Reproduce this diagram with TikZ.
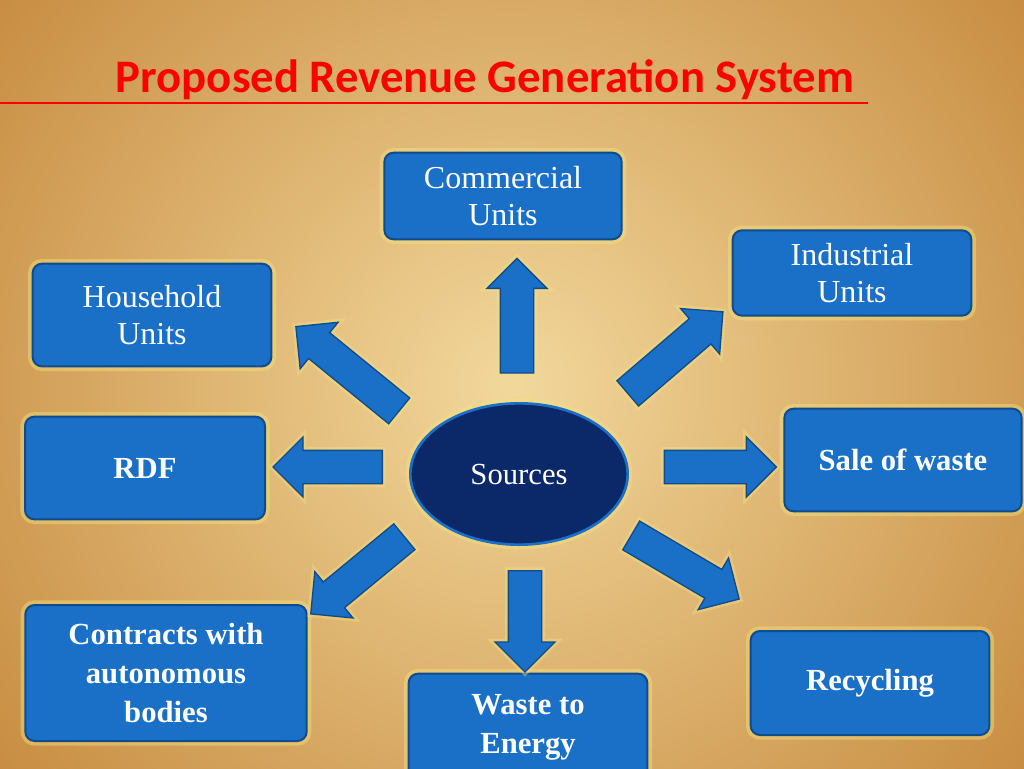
\documentclass[tikz,border=0pt]{standalone}
\usepackage{fontspec}
\setmainfont{Liberation Serif}
\newfontfamily\titlefont{Carlito}
\usetikzlibrary{shapes.arrows, shapes.geometric}
\definecolor{boxblue}{HTML}{1A6FC6}
\definecolor{boxedge}{HTML}{0E4C8E}
\definecolor{navy}{HTML}{0B2868}
\definecolor{glow}{HTML}{F4E27A}
\definecolor{bgin}{HTML}{F2D89C}
\definecolor{bgout}{HTML}{C4863A}
\tikzset{
  unit/.style={
    draw=boxedge, line width=1.5pt, fill=boxblue,
    rounded corners=7pt, text=white, align=center,
    font=\fontsize{24}{28}\selectfont,
    preaction={draw=glow, line width=7pt, opacity=0.45},
  },
  boldunit/.style={
    unit, font=\fontsize{23}{29}\selectfont\bfseries,
  },
  flow/.style={
    single arrow, draw=boxedge, line width=1pt, fill=boxblue,
    inner sep=12pt, single arrow head extend=10pt,
    preaction={draw=glow, line width=5pt, opacity=0.4},
  },
}
\begin{document}
\begin{tikzpicture}[x=0.75pt, y=-0.75pt]
  \useasboundingbox (0,0) rectangle (1024,768);
  \shade[inner color=bgin, outer color=bgout] (-200,-300) rectangle (1224,1068);

  % title
  \node[text=red, font=\titlefont\fontsize{35}{38}\selectfont\bfseries] (title) at (485,80)
    {Proposed Revenue Generation System};
  \draw[red, line width=1.3pt] (0,103) -- (868,103);

  % units
  \node[unit, minimum width=178pt, minimum height=65pt] (comm) at (503,196) {Commercial\\Units};
  \node[unit, minimum width=179pt, minimum height=64pt] (ind) at (852,273) {Industrial\\Units};
  \node[unit, minimum width=179pt, minimum height=77pt] (house) at (152,315) {Household\\Units};
  \node[boldunit, minimum width=180pt, minimum height=77pt] (rdf) at (145,468) {RDF};
  \node[boldunit, minimum width=178pt, minimum height=77pt] (sale) at (903,460) {Sale of waste};
  \node[boldunit, minimum width=211pt, minimum height=102pt] (contr) at (166,673) {Contracts with\\autonomous\\bodies};
  \node[boldunit, minimum width=179pt, minimum height=80pt] (wte) at (528,727) {Waste to\\Energy};
  \node[boldunit, minimum width=179pt, minimum height=78pt] (recyc) at (870,683) {Recycling};

  % centre
  \node[ellipse, draw=boxblue, line width=2pt, fill=navy, text=white,
        minimum width=163pt, minimum height=106pt,
        font=\fontsize{23}{26}\selectfont,
        preaction={draw=glow, line width=7pt, opacity=0.45}] (src) at (519,474) {Sources};

  % arrows
  \node[flow, rotate=90, minimum height=86pt] (a1) at (517,324) {};
  \node[flow, rotate=140.8, minimum height=100pt] (a2) at (354,374) {};
  \node[flow, rotate=40.6, minimum height=94pt] (a3) at (669,358) {};
  \node[flow, rotate=180, minimum height=82pt] (a4) at (336,467) {};
  \node[flow, rotate=0, minimum height=84pt] (a5) at (712,467) {};
  \node[flow, rotate=219.5, minimum height=91pt] (a6) at (364,570) {};
  \node[flow, rotate=270, minimum height=76pt] (a7) at (525,613) {};
  \node[flow, rotate=-30.5, minimum height=94pt] (a8) at (678,563) {};
\end{tikzpicture}
\end{document}
